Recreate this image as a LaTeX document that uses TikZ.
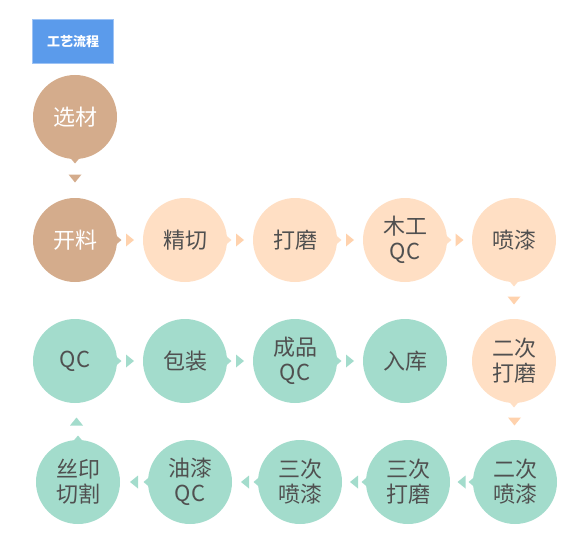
\documentclass[tikz,border=0pt]{standalone}
\usepackage{fontspec}
\newfontfamily\cjk{Noto Sans CJK SC}
\usetikzlibrary{calc}
\definecolor{brownc}{HTML}{D4AC8C}
\definecolor{peachc}{HTML}{FFDFC4}
\definecolor{peacha}{HTML}{FFD2AD}
\definecolor{tealc}{HTML}{A3DCCC}
\definecolor{txtc}{HTML}{505050}
\definecolor{bluec}{HTML}{5B9BEB}
\definecolor{blueb}{HTML}{9DC3F5}
\tikzset{
  stepc/.style={circle, minimum size=84pt, inner sep=0pt, align=center,
    font=\cjk\fontsize{22}{25}\selectfont, text=txtc},
  brownstep/.style={stepc, fill=brownc, text=white},
  peachstep/.style={stepc, fill=peachc},
  tealstep/.style={stepc, fill=tealc},
  notch/.pic={\fill[#1] (46.5,0)--(37,8)--(37,-8)--cycle;},
  arrowtri/.pic={\fill[#1] (4,0)--(-4,6.5)--(-4,-6.5)--cycle;},
}
\newcommand\flowarrow[4]{\pic[rotate=#4] at ($(#1)!0.5!(#2)$) {arrowtri=#3};}
\newcommand\stepnotch[3]{\pic[rotate=#3] at (#1) {notch=#2};}
\begin{document}
\begin{tikzpicture}[x=1pt,y=-1pt]
\useasboundingbox (0,0) rectangle (573,543);
\node[fill=bluec, draw=blueb, minimum width=81pt, minimum height=44pt, inner sep=0pt,
  text=white, font=\cjk\bfseries\fontsize{13}{15}\selectfont] (title) at (73,41.5) {工艺流程};
% row 1
\node[brownstep] (s1) at (75,117) {选材};
% row 2
\node[brownstep] (s2) at (75,240) {开料};
\node[peachstep] (s3) at (185,240) {精切};
\node[peachstep] (s4) at (295,240) {打磨};
\node[peachstep] (s5) at (405,240) {木工\\QC};
\node[peachstep] (s6) at (514,240) {喷漆};
% row 3
\node[peachstep] (s7) at (514,361) {二次\\打磨};
\node[tealstep] (s13) at (75,361) {QC};
\node[tealstep] (s14) at (185,361) {包装};
\node[tealstep] (s15) at (295,361) {成品\\QC};
\node[tealstep] (s16) at (405,361) {入库};
% row 4
\node[tealstep] (s8) at (515,482) {二次\\喷漆};
\node[tealstep] (s9) at (408,482) {三次\\打磨};
\node[tealstep] (s10) at (300,482) {三次\\喷漆};
\node[tealstep] (s11) at (190,482) {油漆\\QC};
\node[tealstep] (s12) at (78,482) {丝印\\切割};
% notches
\stepnotch{s1}{brownc}{270}
\stepnotch{s2}{brownc}{0}
\stepnotch{s3}{peachc}{0}
\stepnotch{s4}{peachc}{0}
\stepnotch{s5}{peachc}{0}
\stepnotch{s6}{peachc}{270}
\stepnotch{s7}{peachc}{270}
\stepnotch{s8}{tealc}{180}
\stepnotch{s9}{tealc}{180}
\stepnotch{s10}{tealc}{180}
\stepnotch{s11}{tealc}{180}
\stepnotch{s12}{tealc}{90}
\stepnotch{s13}{tealc}{0}
\stepnotch{s14}{tealc}{0}
\stepnotch{s15}{tealc}{0}
% connectors
\flowarrow{s1}{s2}{brownc}{270}
\flowarrow{s2}{s3}{peacha}{0}
\flowarrow{s3}{s4}{peacha}{0}
\flowarrow{s4}{s5}{peacha}{0}
\flowarrow{s5}{s6}{peacha}{0}
\flowarrow{s6}{s7}{peacha}{270}
\flowarrow{s7}{s8}{peacha}{270}
\flowarrow{s8}{s9}{tealc}{180}
\flowarrow{s9}{s10}{tealc}{180}
\flowarrow{s10}{s11}{tealc}{180}
\flowarrow{s11}{s12}{tealc}{180}
\flowarrow{s12}{s13}{tealc}{90}
\flowarrow{s13}{s14}{tealc}{0}
\flowarrow{s14}{s15}{tealc}{0}
\flowarrow{s15}{s16}{tealc}{0}
\end{tikzpicture}
\end{document}
